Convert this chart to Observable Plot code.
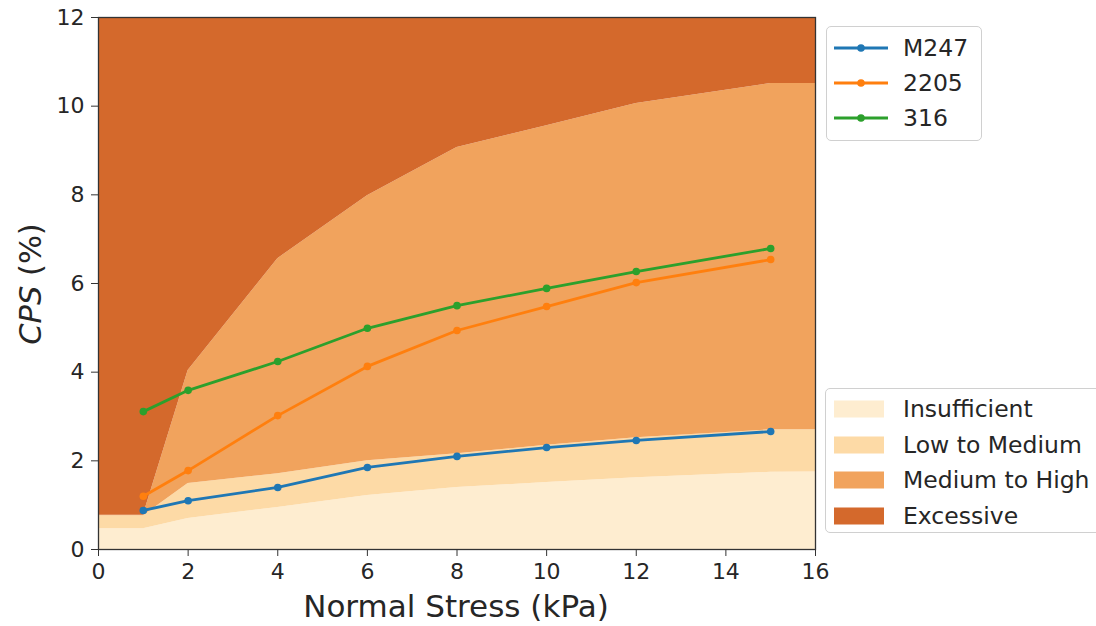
<!DOCTYPE html>
<html>
<head>
<meta charset="utf-8">
<script src="https://cdn.jsdelivr.net/npm/d3@7"></script>
<script src="https://cdn.jsdelivr.net/npm/@observablehq/plot@0.6"></script>
<style>
  html, body { margin: 0; padding: 0; background: #fff; }
  #wrap { position: relative; width: 1096px; height: 626px; overflow: hidden; font-family: "DejaVu Sans", sans-serif; }
  .legend { position: absolute; background: rgba(255,255,255,0.95); border: 1.5px solid #d0d0d0; border-radius: 5px; box-sizing: border-box; }
  .row { position: absolute; display: flex; align-items: center; font-size: 23.5px; color: #262626; white-space: nowrap; }
  .ylab { position: absolute; left: 30px; top: 284px; transform: translate(-50%, -50%) rotate(-90deg); font-size: 30.5px; color: #262626; white-space: nowrap; }
  .xlab { position: absolute; left: 456px; top: 606px; transform: translate(-50%, -50%); font-size: 31px; color: #262626; white-space: nowrap; }
</style>
</head>
<body>
<div id="wrap"></div>
<script>
// Band boundaries
const bandX          = [0,    1,    2,    4,    6,    8,    10,   12,    15,    16];
const insufficientTop= [0.47, 0.47, 0.70, 0.95, 1.22, 1.40, 1.51, 1.62,  1.74,  1.75];
const lowMedTop      = [0.76, 0.76, 1.49, 1.71, 2.00, 2.16, 2.35, 2.52,  2.70,  2.70];
const medHighTop     = [0.77, 0.77, 4.04, 6.56, 7.98, 9.07, 9.56, 10.06, 10.51, 10.51];
const yMax = 12;

// Series
const stress = [1, 2, 4, 6, 8, 10, 12, 15];
const m247   = [0.88, 1.10, 1.40, 1.85, 2.10, 2.30, 2.46, 2.66];
const s2205  = [1.20, 1.78, 3.02, 4.13, 4.94, 5.48, 6.02, 6.54];
const s316   = [3.11, 3.59, 4.24, 4.99, 5.50, 5.89, 6.27, 6.79];

const seriesNames  = ["M247", "2205", "316"];
const seriesColors = ["#1f77b4", "#ff7f0e", "#2ca02c"];
const bandNames  = ["Insufficient", "Low to Medium", "Medium to High", "Excessive"];
const bandColors = ["#feedd0", "#fddaa6", "#f1a35d", "#d4692c"];

const xTicks = d3.range(0, 17, 2);
const yTicks = d3.range(0, 13, 2);

const bands = bandX.map((x, i) => ({
  x,
  b0: 0,
  b1: insufficientTop[i],
  b2: lowMedTop[i],
  b3: medHighTop[i],
  b4: yMax
}));

const series = [m247, s2205, s316].flatMap((vals, si) =>
  stress.map((x, i) => ({ x, y: vals[i], name: seriesNames[si] }))
);

const plot = Plot.plot({
  width: 1096,
  height: 626,
  marginLeft: 98,
  marginRight: 281,
  marginTop: 17,
  marginBottom: 77,
  style: { fontFamily: "DejaVu Sans, sans-serif", fontSize: "22px", color: "#262626", background: "transparent" },
  x: { domain: [0, 16] },
  y: { domain: [0, 12] },
  marks: [
    Plot.areaY(bands, { x: "x", y1: "b0", y2: "b1", fill: bandColors[0], curve: "linear" }),
    Plot.areaY(bands, { x: "x", y1: "b1", y2: "b2", fill: bandColors[1], curve: "linear" }),
    Plot.areaY(bands, { x: "x", y1: "b2", y2: "b3", fill: bandColors[2], curve: "linear" }),
    Plot.areaY(bands, { x: "x", y1: "b3", y2: "b4", fill: bandColors[3], curve: "linear" }),
    Plot.line(series, { x: "x", y: "y", z: "name", stroke: d => seriesColors[seriesNames.indexOf(d.name)], strokeWidth: 2.8 }),
    Plot.dot(series, { x: "x", y: "y", r: 3.8, fill: d => seriesColors[seriesNames.indexOf(d.name)], stroke: "none" }),
    Plot.frame({ stroke: "#333", strokeWidth: 1.3 }),
    Plot.axisX({ ticks: xTicks, tickSize: 7, tickPadding: 7, fontSize: 22, label: null, stroke: "#333" }),
    Plot.axisY({ ticks: yTicks, tickSize: 7, tickPadding: 7, fontSize: 22, label: null, stroke: "#333" })
  ]
});

const wrap = document.getElementById("wrap");
wrap.appendChild(plot);

// Axis labels
const ylab = document.createElement("div");
ylab.className = "ylab";
ylab.innerHTML = "<i>CPS</i> (%)";
wrap.appendChild(ylab);
const xlab = document.createElement("div");
xlab.className = "xlab";
xlab.textContent = "Normal Stress (kPa)";
wrap.appendChild(xlab);

// Series legend
const leg1 = document.createElement("div");
leg1.className = "legend";
Object.assign(leg1.style, { left: "826px", top: "26px", width: "156px", height: "115px" });
seriesNames.forEach((n, i) => {
  const row = document.createElement("div");
  row.className = "row";
  row.style.top = (21 + i * 35 - 14) + "px";
  row.style.left = "6px";
  row.style.height = "28px";
  row.innerHTML = `<svg width="56" height="12" style="margin-right:14px"><line x1="1" x2="55" y1="6" y2="6" stroke="${seriesColors[i]}" stroke-width="2.8"/><circle cx="28" cy="6" r="3.8" fill="${seriesColors[i]}"/></svg><span>${n}</span>`;
  leg1.appendChild(row);
});
wrap.appendChild(leg1);

// Band legend
const leg2 = document.createElement("div");
leg2.className = "legend";
Object.assign(leg2.style, { left: "825px", top: "388px", width: "300px", height: "145px" });
bandNames.forEach((n, i) => {
  const row = document.createElement("div");
  row.className = "row";
  row.style.top = (20 + i * 35.5 - 14) + "px";
  row.style.left = "7px";
  row.style.height = "28px";
  row.innerHTML = `<svg width="52" height="18" style="margin-right:18px"><rect x="1" y="0.5" width="50" height="17" fill="${bandColors[i]}"/></svg><span>${n}</span>`;
  leg2.appendChild(row);
});
wrap.appendChild(leg2);
</script>
</body>
</html>
